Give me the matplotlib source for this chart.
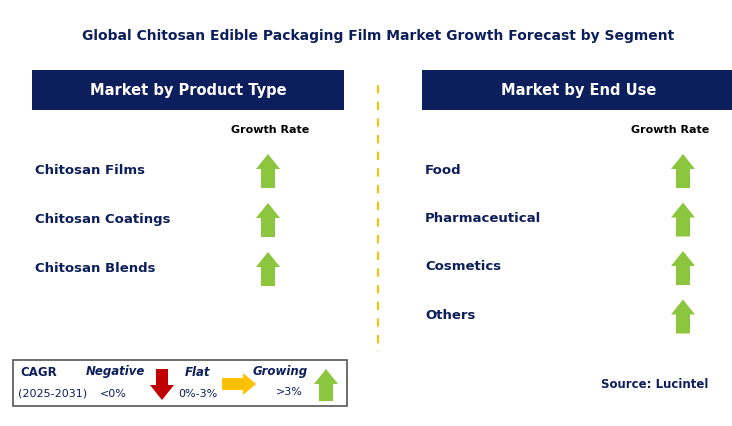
import matplotlib
matplotlib.use("Agg")
import matplotlib.pyplot as plt
from matplotlib.patches import Polygon, Rectangle

title = "Global Chitosan Edible Packaging Film Market Growth Forecast by Segment"
left_header = "Market by Product Type"
right_header = "Market by End Use"
product_types = ["Chitosan Films", "Chitosan Coatings", "Chitosan Blends"]
product_growth = ["up", "up", "up"]
end_uses = ["Food", "Pharmaceutical", "Cosmetics", "Others"]
end_use_growth = ["up", "up", "up", "up"]

NAVY = "#0c1e5b"
TXT = "#0c1e5b"
GREEN = "#8cc63f"
RED = "#c00000"
ORANGE = "#ffc000"

fig = plt.figure(figsize=(7.32, 4.26), dpi=100)
ax = fig.add_axes([0, 0, 1, 1])
ax.set_xlim(0, 732)
ax.set_ylim(426, 0)
ax.axis("off")

def up_arrow(cx, top, bottom, color, hw=12, sw=7, hh=15):
    pts = [(cx, top), (cx + hw, top + hh), (cx + sw, top + hh), (cx + sw, bottom),
           (cx - sw, bottom), (cx - sw, top + hh), (cx - hw, top + hh)]
    ax.add_patch(Polygon(pts, closed=True, color=color, lw=0))

def down_arrow(cx, top, bottom, color, hw=12, sw=6, hh=15):
    pts = [(cx, bottom), (cx + hw, bottom - hh), (cx + sw, bottom - hh), (cx + sw, top),
           (cx - sw, top), (cx - sw, bottom - hh), (cx - hw, bottom - hh)]
    ax.add_patch(Polygon(pts, closed=True, color=color, lw=0))

def right_arrow(left, right, cy, color, hw=11, sw=6, hl=13):
    pts = [(right, cy), (right - hl, cy - hw), (right - hl, cy - sw), (left, cy - sw),
           (left, cy + sw), (right - hl, cy + sw), (right - hl, cy + hw)]
    ax.add_patch(Polygon(pts, closed=True, color=color, lw=0))

ax.text(378, 36, title, ha="center", va="center", fontsize=10, fontweight="bold", color=TXT)

for (x0, x1, label) in [(32, 344, left_header), (422, 735, right_header)]:
    ax.add_patch(Rectangle((x0, 70), x1 - x0, 40, color=NAVY, lw=0))
    ax.text((x0 + x1) / 2, 90, label, ha="center", va="center", fontsize=10.5,
            fontweight="bold", color="white")

ax.text(270, 130, "Growth Rate", ha="center", va="center", fontsize=8, fontweight="bold", color="black")
ax.text(670, 130, "Growth Rate", ha="center", va="center", fontsize=8, fontweight="bold", color="black")

for i, (name, g) in enumerate(zip(product_types, product_growth)):
    y = 170 + i * 49
    ax.text(35, y, name, ha="left", va="center", fontsize=9.5, fontweight="bold", color=TXT)
    if g == "up":
        up_arrow(268, y - 16, y + 18, GREEN)

for i, (name, g) in enumerate(zip(end_uses, end_use_growth)):
    y = 170 + i * 48.5
    ax.text(425, y, name, ha="left", va="center", fontsize=9.5, fontweight="bold", color=TXT)
    if g == "up":
        up_arrow(683, y - 16, y + 18, GREEN)

ax.plot([378, 378], [85, 352], color=ORANGE, lw=1.5, ls=(0, (4, 4)))

# legend
ax.add_patch(Rectangle((13, 360), 334, 46, fill=False, ec="#555555", lw=1.2))
ax.text(20, 373, "CAGR", fontsize=8.5, fontweight="bold", color=TXT, va="center")
ax.text(18, 393, "(2025-2031)", fontsize=8, color=TXT, va="center")
ax.text(86, 372, "Negative", fontsize=8.5, fontweight="bold", style="italic", color=TXT, va="center")
ax.text(100, 394, "<0%", fontsize=8, color=TXT, va="center")
down_arrow(162, 369, 400, RED)
ax.text(185, 372, "Flat", fontsize=8.5, fontweight="bold", style="italic", color=TXT, va="center")
ax.text(178, 394, "0%-3%", fontsize=8, color=TXT, va="center")
right_arrow(222, 256, 384, ORANGE)
ax.text(253, 372, "Growing", fontsize=8.5, fontweight="bold", style="italic", color=TXT, va="center")
ax.text(276, 392, ">3%", fontsize=8, color=TXT, va="center")
up_arrow(326, 369, 401, GREEN)

ax.text(708, 384, "Source: Lucintel", ha="right", va="center", fontsize=8.5, fontweight="bold", color=TXT)

fig.savefig("out.png", dpi=100)
